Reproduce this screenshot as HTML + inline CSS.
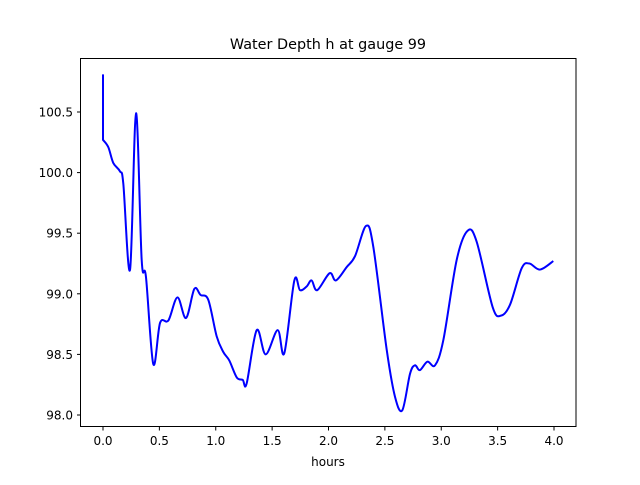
<!DOCTYPE html>
<html><head><meta charset="utf-8"><style>
body{margin:0;background:#fff}
svg text{font-family:"DejaVu Sans","Liberation Sans",sans-serif;font-size:12px;fill:#000}
</style></head><body>
<svg id="chart" width="640" height="480" xmlns="http://www.w3.org/2000/svg">
<rect width="640" height="480" fill="#fff"/>
<text x="328" y="49" text-anchor="middle" style="font-size:14.4px">Water Depth h at gauge 99</text>
<g id="xt"></g><g id="yt"></g>
<path id="line" fill="none" stroke="#0000ff" stroke-width="2" stroke-linejoin="round"/>
<rect x="80.5" y="58.5" width="495.5" height="368" fill="none" stroke="#000" stroke-width="1"/>
<text x="328" y="466" text-anchor="middle">hours</text>
</svg>
<script>
const hours=[0,0,0.047,0.091,0.151,0.18,0.24,0.293,0.343,0.381,0.446,0.506,0.58,0.66,0.736,0.81,0.866,0.934,1.008,1.067,1.12,1.186,1.239,1.274,1.363,1.443,1.549,1.608,1.697,1.747,1.806,1.85,1.90,2.01,2.066,2.161,2.235,2.333,2.397,2.516,2.59,2.655,2.723,2.767,2.81,2.877,2.945,3.019,3.137,3.234,3.314,3.456,3.53,3.61,3.713,3.781,3.876,3.994];
const depth=[100.81,100.27,100.21,100.08,100.01,99.91,99.20,100.49,99.28,99.14,98.42,98.76,98.78,98.97,98.80,99.04,98.99,98.95,98.65,98.52,98.45,98.31,98.29,98.26,98.70,98.50,98.70,98.51,99.11,99.03,99.06,99.11,99.03,99.17,99.11,99.22,99.31,99.56,99.39,98.54,98.15,98.04,98.34,98.41,98.37,98.44,98.41,98.62,99.28,99.52,99.43,98.89,98.82,98.91,99.21,99.25,99.20,99.27];
const xTicks=["0.0","0.5","1.0","1.5","2.0","2.5","3.0","3.5","4.0"];
const yTicks=["98.0","98.5","99.0","99.5","100.0","100.5"];
const X=v=>103+(v)*112.75, Y=v=>415-(v-98)*121.2;
const NS="http://www.w3.org/2000/svg";
const xt=document.getElementById('xt'), yt=document.getElementById('yt');
xTicks.forEach(t=>{const x=X(+t);
 const l=document.createElementNS(NS,'line');l.setAttribute('x1',x);l.setAttribute('x2',x);l.setAttribute('y1',427);l.setAttribute('y2',430.5);l.setAttribute('stroke','#000');
 
 xt.appendChild(l);
 const s=document.createElementNS(NS,'text');s.setAttribute('x',x);s.setAttribute('y',445);s.setAttribute('text-anchor','middle');s.textContent=t;
 
 xt.appendChild(s);});
yTicks.forEach(t=>{const y=Y(+t);
 const l=document.createElementNS(NS,'line');l.setAttribute('x1',77);l.setAttribute('x2',80.5);l.setAttribute('y1',y);l.setAttribute('y2',y);l.setAttribute('stroke','#000');
 
 yt.appendChild(l);
 const s=document.createElementNS(NS,'text');s.setAttribute('x',73);s.setAttribute('y',y+4.5);s.setAttribute('text-anchor','end');s.textContent=t;
 
 yt.appendChild(s);});
const P=hours.map((h,i)=>[X(h),Y(depth[i])]);
let d='M'+P[0][0]+','+P[0][1]+' L'+P[1][0]+','+P[1][1];
for(let i=1;i<P.length-1;i++){const p0=P[Math.max(i-1,1)],p1=P[i],p2=P[i+1],p3=P[Math.min(i+2,P.length-1)];
 const c1=[p1[0]+(p2[0]-p0[0])/6,p1[1]+(p2[1]-p0[1])/6],c2=[p2[0]-(p3[0]-p1[0])/6,p2[1]-(p3[1]-p1[1])/6];
 d+=` C${c1[0]},${c1[1]} ${c2[0]},${c2[1]} ${p2[0]},${p2[1]}`;}
document.getElementById('line').setAttribute('d',d);
</script>
</body></html>
